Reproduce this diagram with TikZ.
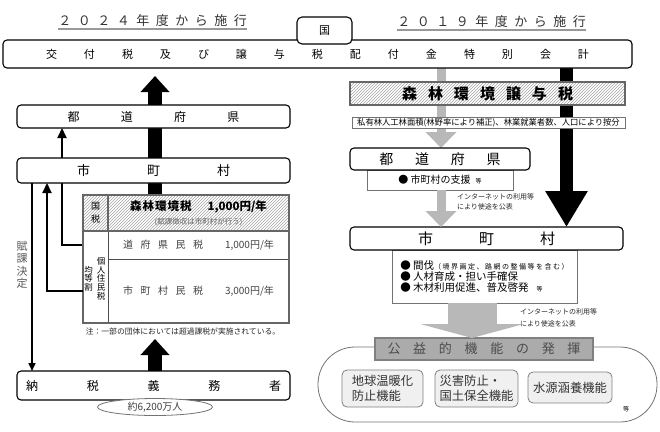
\documentclass[tikz,border=0pt]{standalone}
\usepackage{fontspec}
\setmainfont{Noto Sans CJK JP}
\usepackage{tikz}
\usetikzlibrary{arrows.meta,patterns,shapes.geometric,backgrounds}
\newcommand\gapped[2]{\foreach \ch [count=\nn] in {#2}{\ifnum\nn>1 \hspace{#1}\fi\ch}}

\begin{document}
\begin{tikzpicture}[x=1pt,y=-1pt,
  every node/.style={inner sep=0pt,outer sep=0pt},
  box/.style={draw=black,line width=1.1pt,rounded corners=4pt,fill=white,
              minimum width=273pt},
  subbox/.style={draw=black!55,line width=.7pt,fill=white},
  hatched/.style={preaction={fill=white},pattern=north east lines,
                  pattern color=black!35},
  cell/.style={draw=black!70,line width=.8pt,fill=white},
  topcell/.style={draw=black!60,line width=1.6pt,hatched},
  uline/.style={black!40,line width=1.4pt},
  fundarrow/.style={line width=14pt,-{Triangle[length=16pt,width=28pt]}},
  fundarrowR/.style={line width=13pt,-{Triangle[length=36pt,width=40pt]}},
  flowarrow/.style={black!28,line width=9pt,-{Triangle[length=16pt,width=30pt]}},
  widearrow/.style={black!28,line width=49pt,-{Triangle[length=14pt,width=103pt]}},
  tinyarrow/.style={line width=1.6pt,-{Triangle[length=8pt,width=7pt]}},
  midarrow/.style={line width=2.2pt,-{Triangle[length=10pt,width=9pt]}},
  pubnote/.style={anchor=north west,align=left,text=black!85}]

  \useasboundingbox (0,0) rectangle (660,431);

  % Start years and the special account.
  \node[font=\fontsize{13}{13}\selectfont,text=black!80] (y2024) at (152.5,21)
    {\gapped{6.5pt}{２,０,２,４,年,度,か,ら,施,行}};
  \node[font=\fontsize{13}{13}\selectfont,text=black!80] (y2019) at (491.5,22)
    {\gapped{6.5pt}{２,０,１,９,年,度,か,ら,施,行}};
  \draw[uline] ([yshift=-2pt]y2024.south west) -- ([yshift=-2pt]y2024.south east);
  \draw[uline] ([yshift=-2pt]y2019.south west) -- ([yshift=-2pt]y2019.south east);
  \node[box,minimum width=629pt,minimum height=28pt,font=\fontsize{11}{11}\selectfont]
    (kofu) at (317.5,54)
    {\gapped{27pt}{交,付,税,及,び,譲,与,税,配,付,金,特,別,会,計}};
  \node[box,minimum width=55pt,minimum height=27pt,rounded corners=5pt,
        font=\fontsize{11}{11}\selectfont] (koku) at (324.5,30.5) {国};

  % Left: levy and collection.
  \node[box,minimum height=23pt,font=\fontsize{12}{12}\selectfont] (prefL)
    at (153.5,116.5) {\gapped{41.3pt}{都,道,府,県}};
  \node[box,minimum height=25pt,font=\fontsize{13}{13}\selectfont] (muniL)
    at (153.5,170.5) {\gapped{57pt}{市,町,村}};
  \node[box,minimum height=29pt,font=\fontsize{12}{12}\selectfont] (taxp)
    at (153.5,385.5) {\gapped{48.75pt}{納,税,義,務,者}};
  \node[ellipse,draw=black!55,line width=.8pt,fill=white,minimum width=115pt,
        minimum height=17pt,font=\fontsize{10}{10}\selectfont,text=black!75]
    (pop) at (155,407) {約6,200万人};
  \node[align=center,font=\fontsize{11}{12.5}\selectfont,text=black!65] (fuka)
    at (22,265) {賦\\課\\決\\定};

  % Tax table.
  \node[cell,minimum width=25pt,minimum height=92pt] (jumin) at (95.5,277) {};
  \node[align=center,font=\fontsize{8.5}{8.7}\selectfont] (kojin) at (101,278.5)
    {個\\人\\住\\民\\税};
  \node[align=center,font=\fontsize{8.5}{8.7}\selectfont] (kinto) at (88.5,278.5)
    {均\\等\\割};
  \node[cell,minimum width=181pt,minimum height=28pt,text=black!75,
        font=\fontsize{10}{10}\selectfont] (rowdo) at (198.5,245)
    {\gapped{7.5pt}{道,府,県,民,税}\hspace{22pt}1,000円/年};
  \node[cell,minimum width=181pt,minimum height=64pt,text=black!75,
        font=\fontsize{10}{10}\selectfont] (rowsh) at (198.5,291)
    {\gapped{7.5pt}{市,町,村,民,税}\hspace{22pt}3,000円/年};
  \node[topcell,minimum width=25pt,minimum height=36pt,align=center,
        font=\fontsize{9}{13}\selectfont] (kokuzei) at (95.5,213) {国\\税};
  \node[topcell,minimum width=181pt,minimum height=36pt,align=center] (shinrin)
    at (198.5,213)
    {{\fontsize{11.5}{13}\selectfont\bfseries
      \gapped{1pt}{森,林,環,境,税}\hspace{16pt}1,000円/年\hspace{12pt}}\\[2pt]
     {\fontsize{7.5}{9}\selectfont\color{black!60}(賦課徴収は市町村が行う)}};
  \draw[draw=black!60,line width=1.6pt] (kokuzei.north west) rectangle (rowsh.south east);
  \node[font=\fontsize{7.8}{8}\selectfont,text=black!85] (note) at (183,332)
    {注：一部の団体においては超過課税が実施されている。};

  % Right: transfer and use.
  \node[draw=black!60,line width=2.4pt,hatched,minimum width=275pt,
        minimum height=23pt,font=\fontsize{15}{15}\selectfont\bfseries]
    (joyo) at (487.5,93.5) {\gapped{11pt}{森,林,環,境,譲,与,税}};
  \node[subbox,minimum width=273pt,minimum height=11pt,
        font=\fontsize{8.3}{8.3}\selectfont] (basis) at (488.5,122.5)
    {私有林人工林面積(林野率により補正)、林業就業者数、人口により按分};
  \node[subbox,minimum width=146pt,minimum height=20pt,
        font=\fontsize{10}{10}\selectfont] (prefjob) at (440,180)
    {● 市町村の支援\hspace{5pt}{\fontsize{6}{6}\selectfont 等}};
  \node[box,minimum width=180pt,minimum height=22pt,font=\fontsize{14}{14}\selectfont]
    (prefR) at (440,159) {\gapped{21.7pt}{都,道,府,県}};
  \node[subbox,minimum width=185pt,minimum height=53pt,align=left,
        font=\fontsize{10.5}{11}\selectfont] (munijob) at (484.5,276.5)
    {● 間伐{\fontsize{7}{7}\selectfont\gapped{1.5pt}{（,境,界,画,定,、,路,網,の,整,備,等,を,含,む,）}}\\
     ● 人材育成・担い手確保\\
     ● 木材利用促進、普及啓発\hspace{8pt}{\fontsize{6}{6}\selectfont 等}};
  \node[box,minimum height=23pt,font=\fontsize{15}{15}\selectfont] (muniR)
    at (486.5,238.5) {\gapped{46pt}{市,町,村}};
  \node[pubnote,font=\fontsize{7}{10}\selectfont] (pub1) at (457,194)
    {インターネットの利用等\\により使途を公表};
  \node[pubnote,font=\fontsize{7}{12}\selectfont] (pub2) at (520,309)
    {インターネットの利用等\\により使途を公表};

  % Public benefits.
  \node[draw=black!55,line width=.8pt,rounded corners=37pt,minimum width=339pt,
        minimum height=75pt] (field) at (487.5,384.5) {};
  \node[draw=black!50,line width=1.5pt,fill=black!33,minimum width=218pt,
        minimum height=22pt,font=\fontsize{13}{13}\selectfont,text=black!70]
    (merit) at (484,349) {\gapped{12.7pt}{公,益,的,機,能,の,発,揮}};
  \foreach \nm/\cx/\cy/\bw/\bh/\txt in
      {warm/382.5/388.5/81/37/{地球温暖化\\防止機能},
       disaster/476.5/388.5/83/37/{災害防止・\\国土保全機能},
       water/570/387.5/84/31/{水源涵養機能}}
    \node[draw=black!50,line width=.8pt,fill=black!6,rounded corners=5pt,
          minimum width=\bw pt,minimum height=\bh pt,align=left,text=black!80,
          font=\fontsize{12.3}{15}\selectfont] (\nm) at (\cx,\cy) {\txt};
  \node[font=\fontsize{6}{6}\selectfont] (etc) at (626,409) {等};

  % Connectors.
  \coordinate (xa) at (32,0);
  \coordinate (xb) at (47,0);
  \coordinate (xc) at (62,0);
  \coordinate (xm) at (155,0);
  \coordinate (xg) at (441,0);
  \coordinate (xh) at (472,0);
  \coordinate (xk) at (566.5,0);
  \draw[tinyarrow] (muniL.south -| xa) -- (taxp.north -| xa);
  \draw[midarrow] (rowsh.west -| jumin.west) -| (muniL.south -| xb);
  \draw[fundarrow,shorten >=16pt] (taxp.north -| xm) -- (rowsh.south -| xm);
  \draw[flowarrow] (prefjob.south -| xg) -- (muniR.north -| xg);
  \draw[widearrow] (munijob.south -| xh) -- (merit.north -| xh);
  \begin{pgfonlayer}{background}
    \draw[midarrow] (rowdo.west -| jumin.west) -| (prefL.south -| xc);
    \draw[fundarrow,shorten >=8pt] (shinrin.north -| xm) -- (kofu.south -| xm);
    \draw[flowarrow] (kofu.south -| xg) -- (prefR.north -| xg);
    \draw[fundarrowR] (kofu.south -| xk) -- (muniR.north -| xk);
  \end{pgfonlayer}
\end{tikzpicture}
\end{document}
